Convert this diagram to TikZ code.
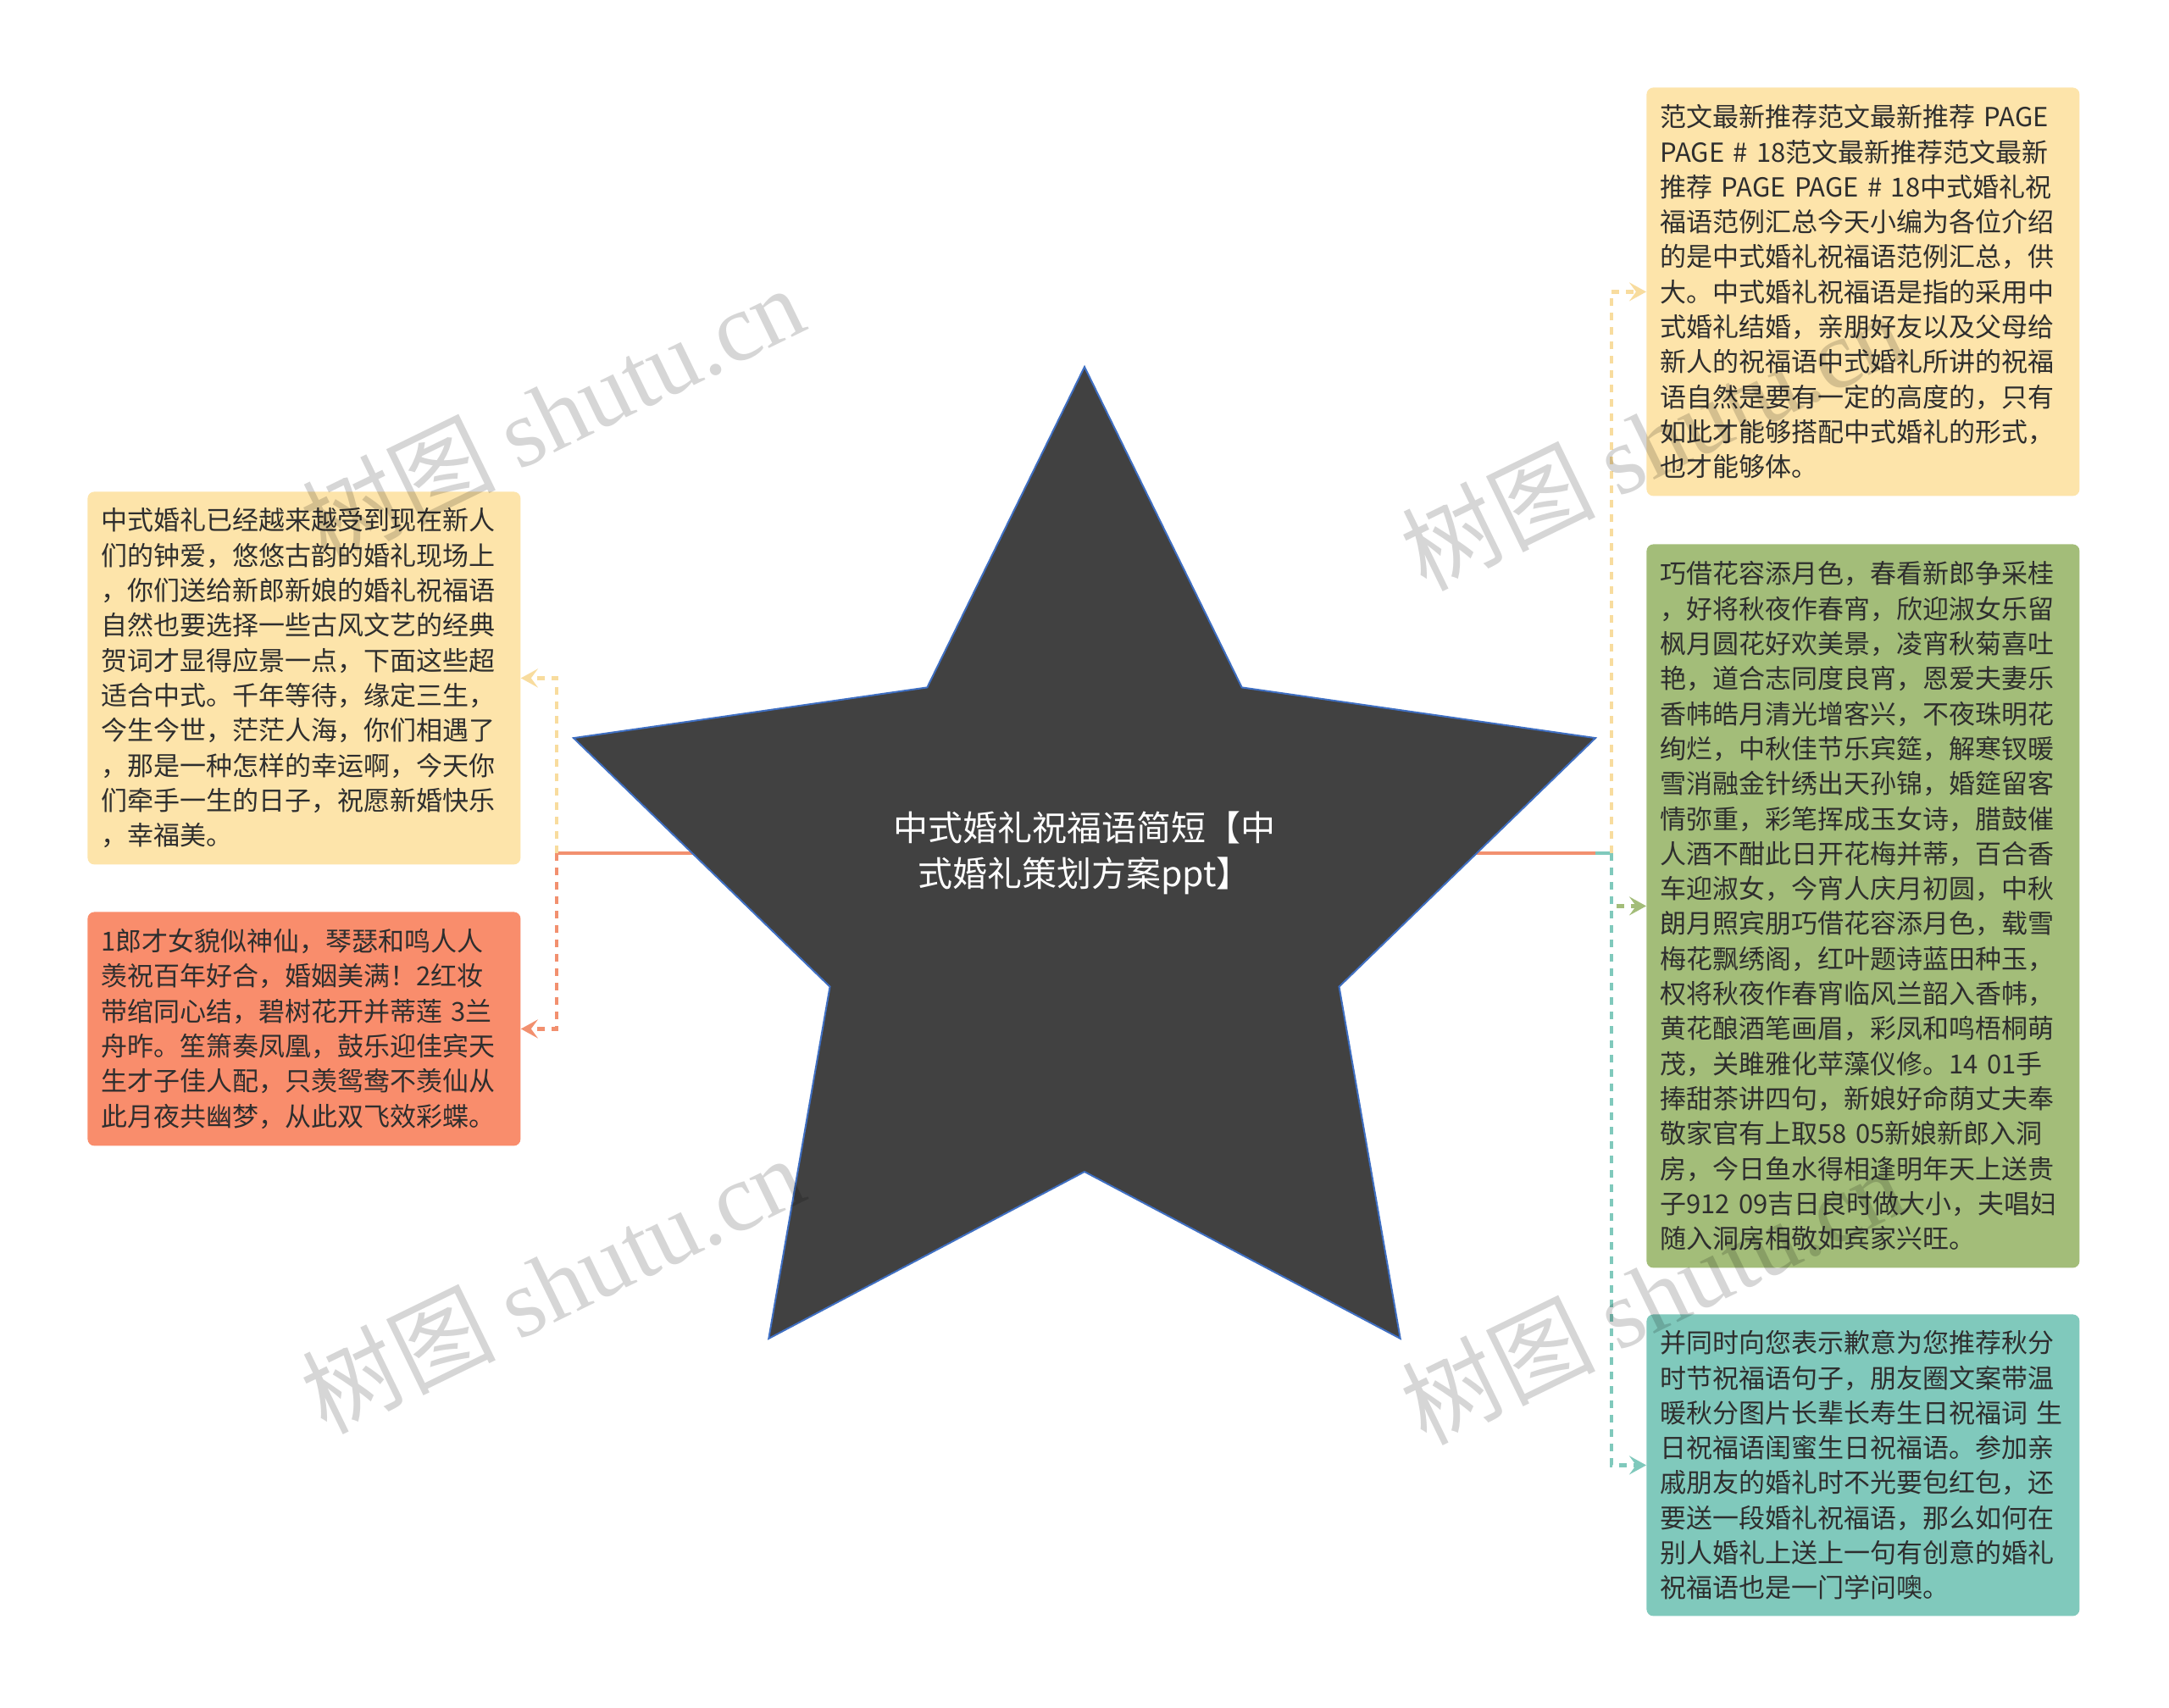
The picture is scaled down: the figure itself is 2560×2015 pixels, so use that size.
\documentclass[tikz,border=0pt]{standalone}
\usepackage{fontspec}
\setmainfont{Noto Sans CJK SC}
\newfontfamily\markfont{Liberation Serif}
\usetikzlibrary{arrows.meta}
\definecolor{inkgray}{HTML}{2E2E2E}
\definecolor{starfill}{HTML}{414141}
\definecolor{starline}{HTML}{3F6FC2}
\definecolor{paleyellow}{HTML}{FDE4AA}
\definecolor{lineyellow}{HTML}{F8DC9E}
\definecolor{salmon}{HTML}{F98D6C}
\definecolor{coral}{HTML}{F2906F}
\definecolor{sage}{HTML}{A3BD79}
\definecolor{aqua}{HTML}{80C9BC}
\pgfdeclarelayer{background}
\pgfsetlayers{background,main}

\begin{document}
\begin{tikzpicture}[x=0.5pt,y=-0.5pt,
    box/.style={rounded corners=4pt,inner xsep=8pt,inner ysep=0pt,text width=239.5pt,minimum width=255.5pt,
      align=left,anchor=north west,text=inkgray,font=\fontsize{15.5pt}{20.65pt}\selectfont},
    trunk/.style={line width=2.2pt,coral},
    branch/.style={line width=2.2pt,dash pattern=on 4.5pt off 4pt,-{Stealth[length=10pt,width=11pt,inset=4pt]}},
    watermark/.style={rotate=26,text=black,text opacity=0.16,font=\fontsize{57pt}{57pt}\selectfont}]
  \useasboundingbox (0,0) rectangle (2560,2015);

  \draw[starline,fill=starfill,line width=1pt,line join=miter]
    (1280,433) -- (1465.7,811.4) -- (1883,871.1) -- (1580.5,1164.6) -- (1652.7,1579.9)
    -- (1280,1383) -- (907.3,1579.9) -- (979.5,1164.6) -- (677,871.1) -- (1094.3,811.4) -- cycle;
  \node[text=white,align=center,font=\fontsize{20.5pt}{27pt}\selectfont] (root) at (1280,1007)
    {中式婚礼祝福语简短【中\\式婚礼策划方案ppt】};

  \node[box,fill=paleyellow,minimum height=241pt] (ryellow) at (1943,103) {范文最新推荐范文最新推荐~PAGE\\PAGE~\#~18范文最新推荐范文最新\\推荐~PAGE~PAGE~\#~18中式婚礼祝\\福语范例汇总今天小编为各位介绍\\的是中式婚礼祝福语范例汇总，供\\大。中式婚礼祝福语是指的采用中\\式婚礼结婚，亲朋好友以及父母给\\新人的祝福语中式婚礼所讲的祝福\\语自然是要有一定的高度的，只有\\如此才能够搭配中式婚礼的形式，\\也才能够体。};
  \node[box,fill=sage,minimum height=427pt] (rgreen) at (1943,642) {巧借花容添月色，春看新郎争采桂\\，好将秋夜作春宵，欣迎淑女乐留\\枫月圆花好欢美景，凌宵秋菊喜吐\\艳，道合志同度良宵，恩爱夫妻乐\\香帏皓月清光增客兴，不夜珠明花\\绚烂，中秋佳节乐宾筵，解寒钗暖\\雪消融金针绣出天孙锦，婚筵留客\\情弥重，彩笔挥成玉女诗，腊鼓催\\人酒不酣此日开花梅并蒂，百合香\\车迎淑女，今宵人庆月初圆，中秋\\朗月照宾朋巧借花容添月色，载雪\\梅花飘绣阁，红叶题诗蓝田种玉，\\权将秋夜作春宵临风兰韶入香帏，\\黄花酿酒笔画眉，彩凤和鸣梧桐萌\\茂，关雎雅化苹藻仪修。14~01手\\捧甜茶讲四句，新娘好命荫丈夫奉\\敬家官有上取58~05新娘新郎入洞\\房，今日鱼水得相逢明年天上送贵\\子912~09吉日良时做大小，夫唱妇\\随入洞房相敬如宾家兴旺。};
  \node[box,fill=aqua,minimum height=178pt] (rteal) at (1943,1551) {并同时向您表示歉意为您推荐秋分\\时节祝福语句子，朋友圈文案带温\\暖秋分图片长辈长寿生日祝福词~生\\日祝福语闺蜜生日祝福语。参加亲\\戚朋友的婚礼时不光要包红包，还\\要送一段婚礼祝福语，那么如何在\\别人婚礼上送上一句有创意的婚礼\\祝福语也是一门学问噢。};
  \node[box,fill=paleyellow,minimum height=220pt] (lyellow) at (103,580) {中式婚礼已经越来越受到现在新人\\们的钟爱，悠悠古韵的婚礼现场上\\，你们送给新郎新娘的婚礼祝福语\\自然也要选择一些古风文艺的经典\\贺词才显得应景一点，下面这些超\\适合中式。千年等待，缘定三生，\\今生今世，茫茫人海，你们相遇了\\，那是一种怎样的幸运啊，今天你\\们牵手一生的日子，祝愿新婚快乐\\，幸福美。};
  \node[box,fill=salmon,minimum height=138pt] (lsalmon) at (103,1076) {1郎才女貌似神仙，琴瑟和鸣人人\\羡祝百年好合，婚姻美满！2红妆\\带绾同心结，碧树花开并蒂莲~3兰\\舟昨。笙箫奏凤凰，鼓乐迎佳宾天\\生才子佳人配，只羡鸳鸯不羡仙从\\此月夜共幽梦，从此双飞效彩蝶。};

  \coordinate (ljoint) at (657,1007);
  \coordinate (rmid) at (1883,1007);
  \coordinate (rjoint) at (1902,1007);
  \begin{pgfonlayer}{background}
    \fill[white] (0,0) rectangle (2560,2015);
    \draw[trunk] (root) -- (ljoint);
    \draw[trunk] (root) -- (rmid);
    \draw[trunk,aqua] (rmid) -- (rjoint);
    \draw[branch,lineyellow] (ljoint) |- (lyellow);
    \draw[branch,coral] (ljoint) |- (lsalmon);
    \draw[branch,lineyellow] (rjoint) |- (ryellow);
    \draw[branch,sage] (rjoint) |- (rgreen);
    \draw[branch,aqua] (rjoint) |- (rteal);
  \end{pgfonlayer}

  \node[watermark] (mark1) at (652,488) {树图 {\markfont shutu.cn}};
  \node[watermark] (mark2) at (652,1515) {树图 {\markfont shutu.cn}};
  \node[watermark] (mark3) at (1950,520) {树图 {\markfont shutu.cn}};
  \node[watermark] (mark4) at (1950,1528) {树图 {\markfont shutu.cn}};
\end{tikzpicture}
\end{document}
